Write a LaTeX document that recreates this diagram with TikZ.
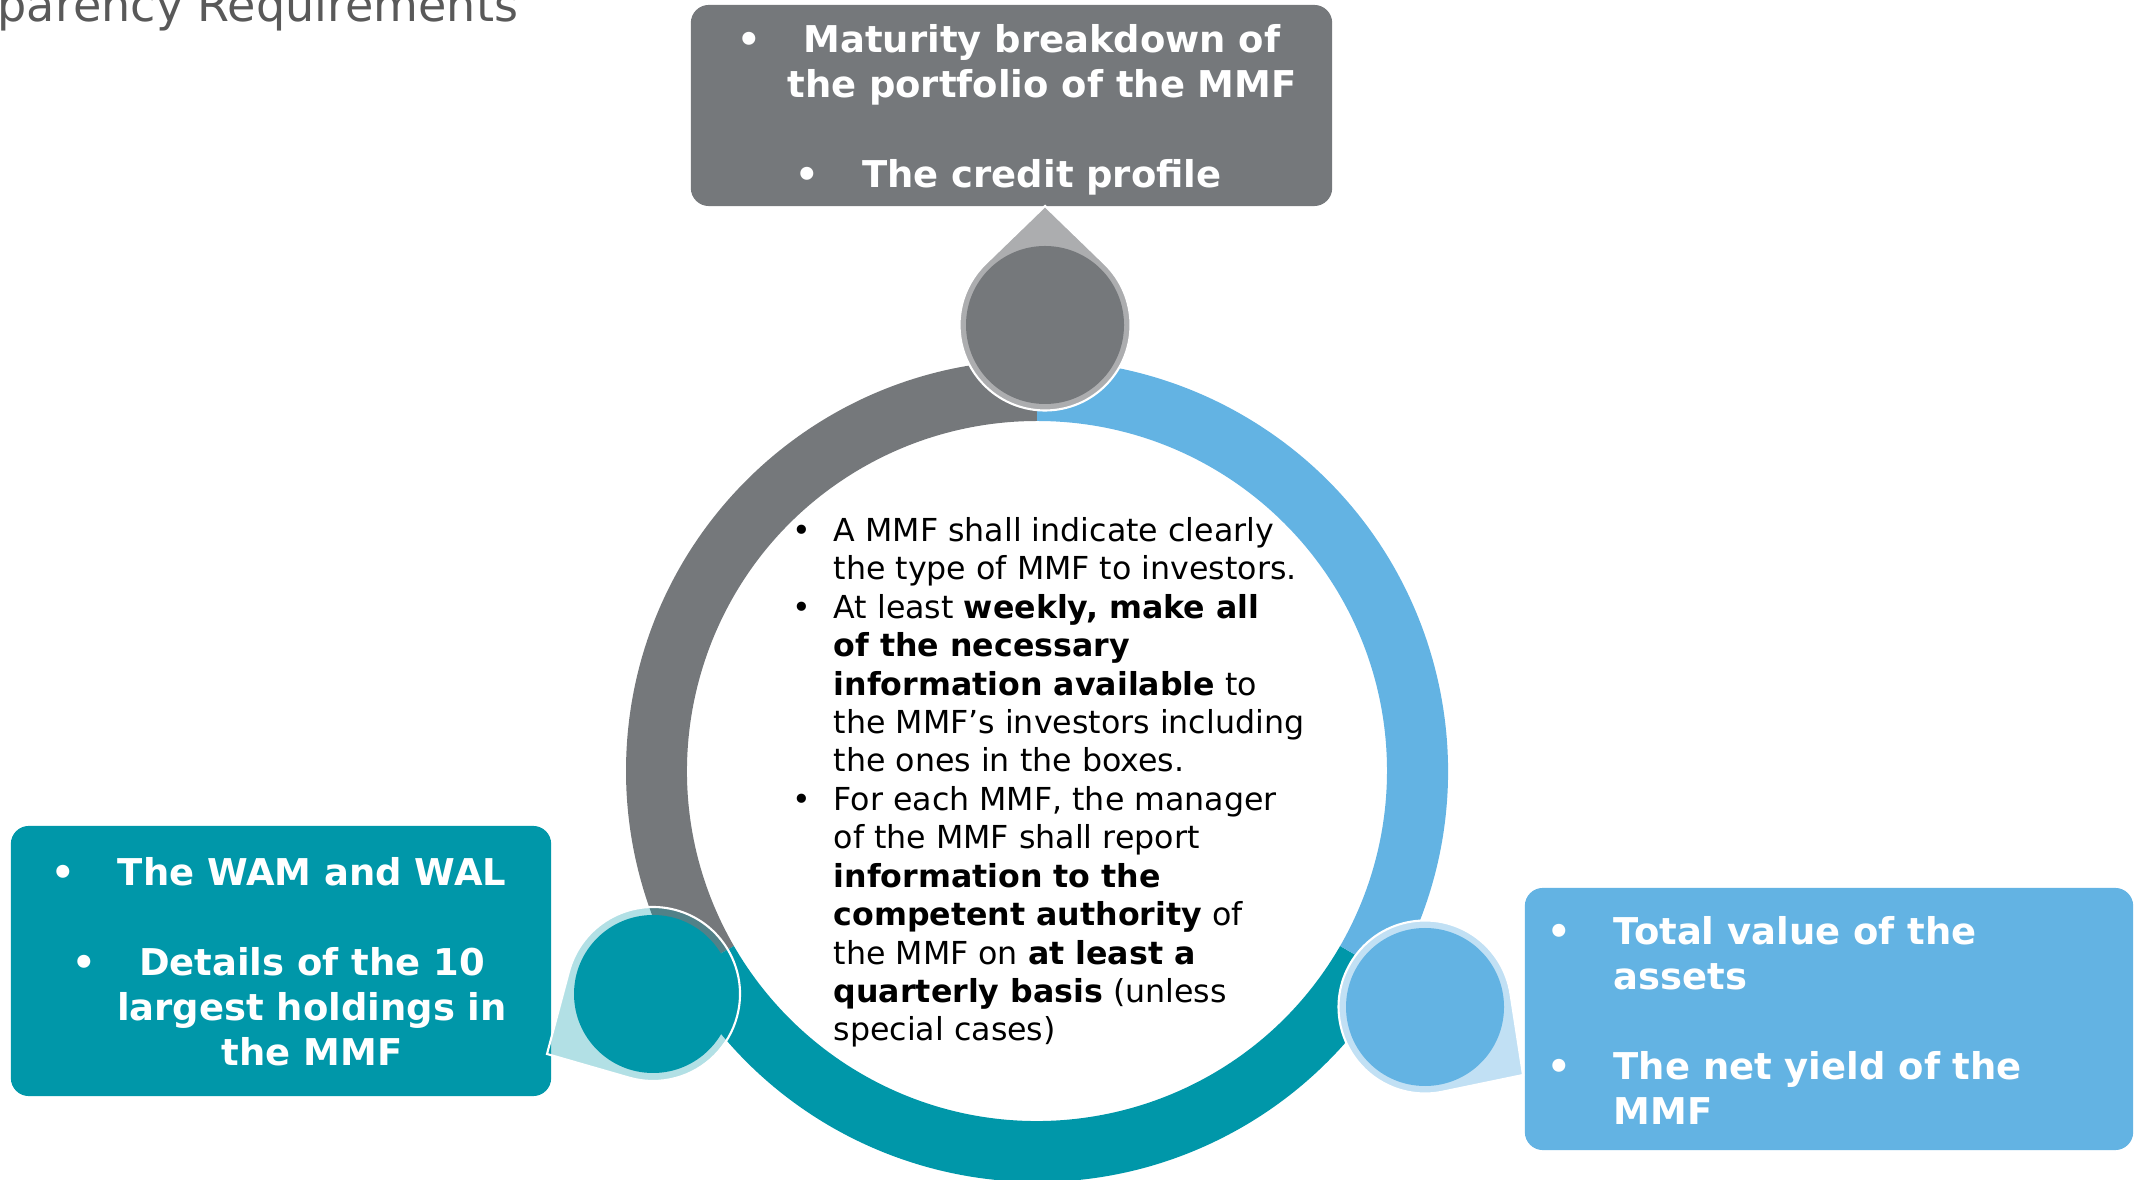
\documentclass[tikz,border=0pt]{standalone}
\usepackage{fontspec}
\setmainfont{DejaVu Sans}
\usetikzlibrary{positioning}

\definecolor{mmfgray}{RGB}{117,120,123}
\definecolor{mmfgrayl}{RGB}{172,173,175}
\definecolor{mmfblue}{RGB}{99,179,227}
\definecolor{mmfbluel}{RGB}{193,224,244}
\definecolor{mmfteal}{RGB}{0,151,169}
\definecolor{titlegray}{RGB}{89,89,89}

\newcommand{\bul}[1]{\llap{\textbullet\hspace{#1}}}

\begin{document}
\begin{tikzpicture}[x=0.01cm, y=0.01cm,
  box/.style={rectangle, rounded corners=0.18cm, inner sep=0pt},
  dot/.style={circle, inner sep=0pt, minimum size=1.58cm},
  tear/.style={draw=white, line width=0.6pt},
  boxtext/.style={text=white, inner sep=0pt, font=\fontsize{10.5pt}{12.8pt}\selectfont\bfseries},
  bodytext/.style={inner sep=0pt, align=left, font=\fontsize{9pt}{10.93pt}\selectfont}]

\useasboundingbox (0,0) rectangle (2134,1179);

% Title (cut at the page edge)
\node[anchor=base west, inner sep=0pt, text=titlegray, font=\fontsize{13.1pt}{15pt}\selectfont] (tTitle) at (-3,1157) {parency Requirements};

% Ring
\coordinate (c) at (1037,408);
\foreach \a/\b/\col in {90/210/mmfgray, 210/330/mmfteal, -30/90/mmfblue}
    \fill[\col] ([shift={(\a:411)}]c) arc[start angle=\a, end angle=\b, radius=411]
        -- ([shift={(\b:350)}]c) arc[start angle=\b, end angle=\a, radius=350] -- cycle;

% Boxes
\node[box, fill=mmfgray, minimum width=6.41cm, minimum height=2.01cm] (bTop) at (1011.5,1073.5) {};
\node[box, fill=mmfteal, minimum width=5.40cm, minimum height=2.70cm] (bLeft) at (281,218) {};
\node[box, fill=mmfblue, minimum width=6.08cm, minimum height=2.62cm] (bRight) at (1829,160) {};

% Circles with pointers
\node[dot] (cTop) at (1045,854) {};
\node[dot] (cLeft) at (653,185) {};
\node[dot] (cRight) at (1425,172) {};
\coordinate (pTop) at (1045,973);
\coordinate (pLeft) at (547,125);
\coordinate (pRight) at (1523,104);

\filldraw[tear, fill=mmfgrayl] (pTop) -- ([shift={(45.9:85.5)}]cTop.center)
    arc[start angle=45.9, end angle=-225.9, radius=85.5] -- cycle;
\filldraw[tear, fill=mmfteal, fill opacity=0.3] (pLeft) -- ([shift={(165.1:87)}]cLeft.center)
    arc[start angle=165.1, end angle=-106.1, radius=87] -- cycle;
\filldraw[tear, fill=mmfbluel] (pRight) -- ([shift={(8.7:86.5)}]cRight.center)
    arc[start angle=8.7, end angle=281.7, radius=86.5] -- cycle;

\fill[mmfgray] (cTop) circle[radius=79];
\fill[mmfteal] (cLeft) circle[radius=79];
\fill[mmfblue] (cRight) circle[radius=79];

% Box texts (base = last line)
\node[boxtext, align=center, anchor=base] (tTop) at (1042,991)
    {\bul{0.43cm}Maturity breakdown of\\ the portfolio of the MMF\\[12.8pt] \bul{0.43cm}The credit profile};
\node[boxtext, align=center, anchor=base] (tLeft) at (312,113.5)
    {\bul{0.43cm}The WAM and WAL\\[12.8pt] \bul{0.43cm}Details of the 10\\ largest holdings in\\ the MMF};
\node[boxtext, align=left, anchor=base west] (tRight) at (1613,54.5)
    {\bul{0.43cm}Total value of the\\ assets\\[12.8pt] \bul{0.43cm}The net yield of the\\ MMF};

% Centre text
\node[bodytext, anchor=base west] (tBody) at (833,138)
    {\bul{0.23cm}A MMF shall indicate clearly\\
     the type of MMF to investors.\\
     \bul{0.23cm}At least \textbf{weekly, make all}\\
     \textbf{of the necessary}\\
     \textbf{information available} to\\
     the MMF’s investors including\\
     the ones in the boxes.\\
     \bul{0.23cm}For each MMF, the manager\\
     of the MMF shall report\\
     \textbf{information to the}\\
     \textbf{competent authority} of\\
     the MMF on \textbf{at least a}\\
     \textbf{quarterly basis} (unless\\
     special cases)};

\end{tikzpicture}
\end{document}
